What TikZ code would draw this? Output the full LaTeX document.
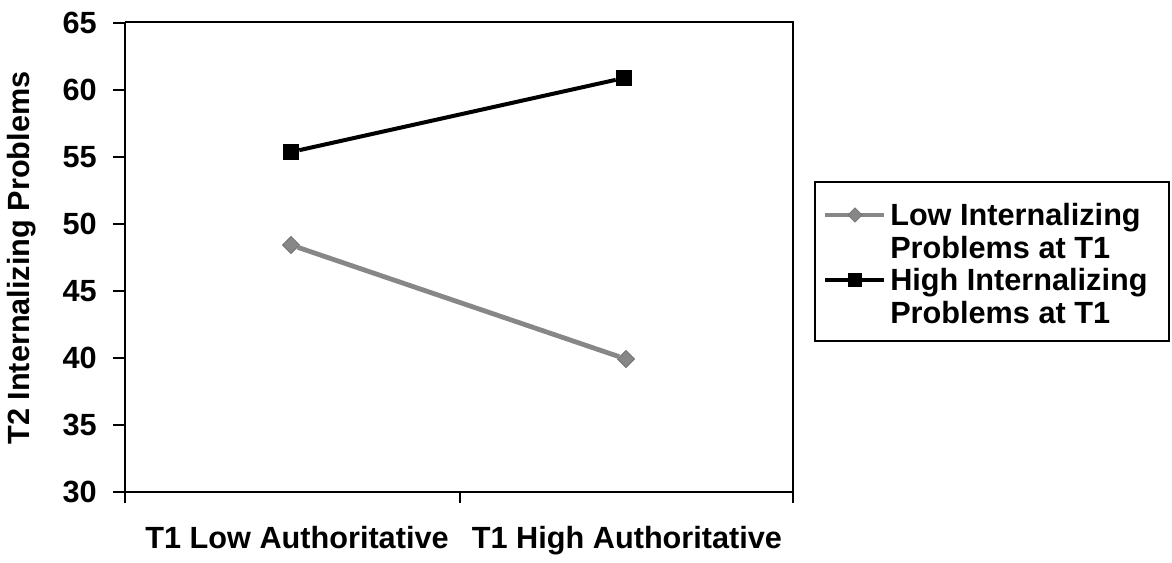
\documentclass[tikz,border=0pt]{standalone}
\usepackage{fontspec}
\setmainfont{Liberation Sans}
\usetikzlibrary{shapes.geometric}

\definecolor{lowgray}{RGB}{135,135,135}

\tikzset{
  lbl/.style={font=\bfseries\fontsize{23}{27}\selectfont, inner sep=0pt},
  axisline/.style={line width=1.5pt},
  frameline/.style={line width=1.1pt},
  hiline/.style={line width=3pt, black},
  lowline/.style={line width=3.6pt, lowgray},
  hisq/.style={rectangle, fill=black, minimum size=12pt, inner sep=0pt},
  lowdia/.style={diamond, fill=lowgray, draw=black!55, line width=0.6pt, minimum size=13pt, inner sep=0pt},
}

\begin{document}
\begin{tikzpicture}[x=0.75pt,y=0.75pt,yscale=-1,xscale=1]
\useasboundingbox (0,0) rectangle (1172,562);

%Plot frame
\draw [frameline]  (125,22) -- (793,22) -- (793,503) ;
%Axes
\draw [axisline]  (125,22) -- (125,492) -- (793,492) ;
\foreach \v in {30,35,...,65}{
  \draw [axisline]  (113,{492-(\v-30)*13.4}) -- (125,{492-(\v-30)*13.4}) ;
  % Text Node
  \node [lbl, anchor=east] (tick\v) at (97,{492-(\v-30)*13.4}) {\v};
}
\foreach \x in {125,460,793}{
  \draw [axisline]  (\x,492) -- (\x,503) ;
}

% Text Node
\node [lbl, rotate=90] (ylabel) at (22,258) {T2 Internalizing Problems};
% Text Node
\node [lbl, anchor=base] (catlow) at (297,548) {T1 Low Authoritative};
% Text Node
\node [lbl, anchor=base] (cathigh) at (627,548) {T1 High Authoritative};

%Data: high internalizing
\node [hisq] (hiA) at (291,152) {};
\node [hisq] (hiB) at (624,78) {};
\draw [hiline]  (hiA) -- (hiB) ;

%Data: low internalizing
\node [lowdia] (lowA) at (291,245) {};
\node [lowdia] (lowB) at (626,359) {};
\draw [lowline]  (lowA) -- (lowB) ;

%Legend
\node [draw, frameline, minimum width=265.5pt, minimum height=119.25pt, inner sep=0pt] (legend) at (992,261.5) {};
\coordinate (keyLowL) at (825,215);
\coordinate (keyLowR) at (884,215);
\draw [lowline]  (keyLowL) -- (keyLowR) ;
\node [lowdia, minimum size=11pt] (keyLow) at (855,215) {};
% Text Node
\node [lbl, anchor=west, align=left, font=\bfseries\fontsize{23}{24.75}\selectfont] (txtLow) at (890,231.5) {Low Internalizing\\Problems at T1};

\coordinate (keyHiL) at (825,280);
\coordinate (keyHiR) at (884,280);
\draw [hiline, line width=2.4pt]  (keyHiL) -- (keyHiR) ;
\node [hisq, minimum size=10pt] (keyHi) at (855,280) {};
% Text Node
\node [lbl, anchor=west, align=left, font=\bfseries\fontsize{23}{24.75}\selectfont] (txtHi) at (890,296.5) {High Internalizing\\Problems at T1};

\end{tikzpicture}
\end{document}
